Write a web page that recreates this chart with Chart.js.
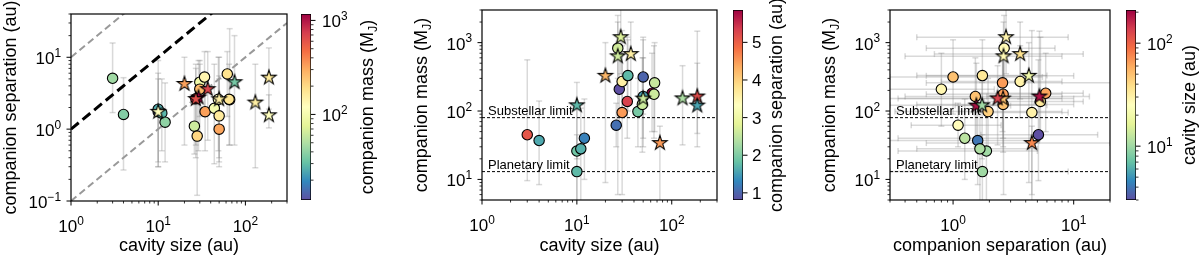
<!DOCTYPE html>
<html><head><meta charset="utf-8">
<script src="https://cdn.jsdelivr.net/npm/chart.js@4.4.1/dist/chart.umd.min.js"></script>
<style>
html,body{margin:0;padding:0;background:#fff;width:1200px;height:260px;overflow:hidden}
canvas{position:absolute;top:0}
</style></head><body>
<canvas id="p1" width="295" height="260" style="left:0px"></canvas>
<canvas id="cb1" width="105" height="260" style="left:295px"></canvas>
<canvas id="p2" width="325" height="260" style="left:400px"></canvas>
<canvas id="cb2" width="75" height="260" style="left:725px"></canvas>
<canvas id="p3" width="318" height="260" style="left:800px"></canvas>
<canvas id="cb3" width="82" height="260" style="left:1118px"></canvas>
<script>
// ---------------- DATA ----------------
// companions shown with circle markers
const circCavity = [3, 4, 10, 10, 11, 12, 26, 30, 34, 28, 30, 34.5, 27, 50, 44, 49, 66, 62, 65, 50];
const circSep    = [5.1, 1.6, 1.75, 1.89, 1.67, 1.25, 1.1, 4.5, 5.3, 0.8, 3.6, 1.75, 2.65, 1.0, 1.95, 2.6, 2.57, 5.86, 2.6, 1.53];
const circMass   = [45, 37, 13, 26, 28, 40, 62, 95, 138, 208, 270, 330, 830, 315, 98, 125, 258, 182, 176, 163];
const circSepLo  = [1.7, 0.27, 0.3, 0.35, 0.5, 0.35, 0.45, 1.5, 1.8, 0.12, 0.8, 0.5, 0.6, 0.3, 0.33, 0.5, 0.6, 1.5, 0.6, 0.4];
const circSepHi  = [15.8, 5.2, 9, 5, 5, 4.4, 2.5, 9, 12, 2.2, 8, 6, 7, 5.5, 8, 10, 25, 12, 8, 5];
const circMassLo = [9.6, 8.4, 3, 3, 4, 10, 30, 6, 40, 60, 80, 100, 300, 90, 30, 25, 50, 50, 40, 40];
const circMassHi = [560, 140, 45, 120, 110, 150, 130, 1500, 1200, 700, 900, 1100, 2500, 1100, 300, 600, 1000, 700, 900, 600];
// companions shown with star markers
const starCavity = [20, 29, 27, 37, 75, 50, 130, 186, 186, 10];
const starSep    = [4.25, 2.75, 2.62, 3.6, 4.5, 2.6, 2.34, 5.2, 1.56, 1.74];
const starMass   = [327, 1200, 630, 680, 34, 152, 153, 163, 120, 121];
const starSepLo  = [0.6, 0.5, 0.4, 0.7, 0.6, 0.35, 0.29, 1.9, 1.04, 0.3];
const starSepHi  = [10, 9, 8, 12, 20, 10, 8, 13.5, 3, 6];
const starMassLo = [9, 350, 6, 150, 2, 30, 32, 47, 30, 20];
const starMassHi = [1000, 3500, 2000, 2000, 60, 1200, 460, 1470, 500, 262];
// reference lines (panel 1)
const diagX      = [1, 300];
const oneToOneY  = [1, 300];
const upperDiagY = [10, 3000];
const lowerDiagY = [0.1, 30];
// mass limits (panels 2,3)
const substellarLimit = 80;
const planetaryLimit  = 13;
// colour ranges
const massRange = [12.3, 1170];
const sepRange  = [0.81, 5.86];
const cavRange  = [3, 210];
// axis ranges & ticks
const cavAxis  = [1, 300];
const sepAxis1 = [0.1, 40];
const massAxis = [5, 3000];
const sepAxis3 = [0.3, 20];
const cavTicks  = [1, 10, 100];
const sepTicks1 = [0.1, 1, 10];
const massTicks = [10, 100, 1000];
const sepTicks3 = [1, 10];
const massCbTicks = [100, 1000];
const sepCbTicks  = [1, 2, 3, 4, 5];
const cavCbTicks  = [10, 100];

// ---------------- HELPERS ----------------
const FONT = '"Liberation Sans", Arial, Helvetica, sans-serif';
const TICK_FS = 17, TITLE_FS = 18, LIMIT_FS = 13;
const SPECTRAL_R = ['#5e4fa2','#3288bd','#66c2a5','#abdda4','#e6f598','#ffffbf','#fee08b','#fdae61','#f46d43','#d53e4f','#9e0142'];
const STOPS = SPECTRAL_R.map(h => [parseInt(h.slice(1,3),16), parseInt(h.slice(3,5),16), parseInt(h.slice(5,7),16)]);
function cmap(t) {
  t = Math.max(0, Math.min(1, t));
  const s = t * 10, i = Math.min(9, Math.floor(s)), f = s - i;
  const a = STOPS[i], b = STOPS[i+1];
  return 'rgb(' + [0,1,2].map(k => Math.round(a[k] + (b[k]-a[k]) * f)).join(',') + ')';
}
const nLog = (v, r) => (Math.log10(v) - Math.log10(r[0])) / (Math.log10(r[1]) - Math.log10(r[0]));
const nLin = (v, r) => (v - r[0]) / (r[1] - r[0]);
const starCache = {};
function starImg(color) {
  if (starCache[color]) return starCache[color];
  const R = 7.6, r = R * 0.381966, size = 20;
  const c = document.createElement('canvas'); c.width = size; c.height = size;
  const g = c.getContext('2d');
  g.translate(size/2, size/2);
  g.beginPath();
  for (let k = 0; k < 10; k++) {
    const rad = k % 2 ? r : R, ang = -Math.PI/2 + k * Math.PI/5;
    const x = rad * Math.cos(ang), y = rad * Math.sin(ang);
    k ? g.lineTo(x, y) : g.moveTo(x, y);
  }
  g.closePath();
  g.fillStyle = color; g.fill();
  g.lineWidth = 1.1; g.strokeStyle = '#000'; g.lineJoin = 'miter'; g.stroke();
  starCache[color] = c;
  return c;
}
const pts = (xs, ys) => xs.map((x, i) => ({x, y: ys[i]}));

function drawSegs(ctx, segs, x, y, align, size) {
  const fnt = s => (s.sup || s.sub ? size * 0.7 : size) + 'px ' + FONT;
  const w = segs.map(s => { ctx.font = fnt(s); return ctx.measureText(s.t).width; });
  const tot = w.reduce((a, b) => a + b, 0);
  let cx = align === 'center' ? x - tot/2 : align === 'right' ? x - tot : x;
  ctx.textAlign = 'left'; ctx.textBaseline = 'alphabetic';
  segs.forEach((s, i) => {
    ctx.font = fnt(s);
    const dy = s.sup ? -size * 0.42 : s.sub ? size * 0.24 : 0;
    ctx.fillText(s.t, cx, y + dy);
    cx += w[i];
  });
}
const powSegs = v => { const e = Math.round(Math.log10(v)); return [{t:'10'}, {t: (e < 0 ? '\u2212' : '') + Math.abs(e), sup:true}]; };
function minorLog(min, max) {
  const out = [];
  for (let e = Math.floor(Math.log10(min)) - 1; e <= Math.ceil(Math.log10(max)); e++)
    for (let k = 2; k < 10; k++) { const v = k * Math.pow(10, e); if (v >= min * 0.9999 && v <= max * 1.0001) out.push(v); }
  return out;
}

// error bars
const errPlugin = {
  id: 'errbars',
  beforeDatasetsDraw(chart, args, o) {
    if (!o || !o.sets) return;
    const {ctx, chartArea: a, scales: {x: sx, y: sy}} = chart;
    ctx.save();
    ctx.beginPath(); ctx.rect(a.left, a.top, a.width, a.height); ctx.clip();
    ctx.strokeStyle = 'rgba(128,128,128,0.3)'; ctx.lineWidth = 1.5;
    const seg = (x1, y1, x2, y2) => { ctx.beginPath(); ctx.moveTo(x1, y1); ctx.lineTo(x2, y2); ctx.stroke(); };
    const cap = 3;
    o.sets.forEach(s => {
      s.x.forEach((xv, i) => {
        const px = sx.getPixelForValue(xv), py = sy.getPixelForValue(s.y[i]);
        if (s.ylo) {
          const y1 = sy.getPixelForValue(s.ylo[i]), y2 = sy.getPixelForValue(s.yhi[i]);
          seg(px, y1, px, y2); seg(px-cap, y1, px+cap, y1); seg(px-cap, y2, px+cap, y2);
        }
        if (s.xlo) {
          const x1 = sx.getPixelForValue(s.xlo[i]), x2 = sx.getPixelForValue(s.xhi[i]);
          seg(x1, py, x2, py); seg(x1, py-cap, x1, py+cap); seg(x2, py-cap, x2, py+cap);
        }
      });
    });
    ctx.restore();
  }
};

// axes decoration (frame, ticks, labels, titles)
const decorPlugin = {
  id: 'decor',
  beforeDatasetsDraw(chart, args, o) {
    if (!o || !o.limits) return;
    const {ctx, chartArea: a, scales: {y: sy}} = chart;
    ctx.save(); ctx.fillStyle = '#000';
    o.limits.forEach(l => {
      drawSegs(ctx, [{t: l.text}], a.left + 6, sy.getPixelForValue(l.v) - 3, 'left', LIMIT_FS);
    });
    ctx.restore();
  },
  afterDraw(chart, args, o) {
    if (!o) return;
    const {ctx, chartArea: a, scales} = chart;
    ctx.save();
    ctx.strokeStyle = '#000'; ctx.fillStyle = '#000';
    const tick = (x1, y1, x2, y2, w) => { ctx.lineWidth = w; ctx.beginPath(); ctx.moveTo(x1, y1); ctx.lineTo(x2, y2); ctx.stroke(); };
    if (o.cb) {
      const sy = scales.y, cfg = o.cb;
      const R = a.right;
      cfg.major.forEach(v => {
        const py = sy.getPixelForValue(v);
        tick(R, py, R + 4.5, py, 1);
        if (cfg.log) drawSegs(ctx, powSegs(v), R + 11, py + 7, 'left', TICK_FS);
        else drawSegs(ctx, [{t: String(v)}], R + 9, py + 6, 'left', TICK_FS);
      });
      if (cfg.log) minorLog(sy.min, sy.max).forEach(v => { const py = sy.getPixelForValue(v); tick(R, py, R + 2.5, py, 0.8); });
      ctx.save();
      ctx.translate(R + cfg.titleOff, (a.top + a.bottom) / 2);
      ctx.rotate(-Math.PI / 2);
      drawSegs(ctx, cfg.title, 0, 0.26 * TITLE_FS, 'center', TITLE_FS);
      ctx.restore();
      ctx.restore();
      return;
    }
    const sx = scales.x, sy = scales.y;
    ctx.lineWidth = 1.2;
    ctx.strokeRect(a.left, a.top, a.width, a.height);
    o.xMajor.forEach(v => {
      const px = sx.getPixelForValue(v);
      tick(px, a.bottom, px, a.bottom + 4.5, 1);
      drawSegs(ctx, powSegs(v), px, a.bottom + 31, 'center', TICK_FS);
    });
    minorLog(sx.min, sx.max).forEach(v => { const px = sx.getPixelForValue(v); tick(px, a.bottom, px, a.bottom + 2.5, 0.8); });
    o.yMajor.forEach(v => {
      const py = sy.getPixelForValue(v);
      tick(a.left, py, a.left - 4.5, py, 1);
      drawSegs(ctx, powSegs(v), a.left - 10, py + 7, 'right', TICK_FS);
    });
    minorLog(sy.min, sy.max).forEach(v => { const py = sy.getPixelForValue(v); tick(a.left, py, a.left - 2.5, py, 0.8); });
    drawSegs(ctx, o.xTitle, (a.left + a.right) / 2, 250.5, 'center', TITLE_FS);
    ctx.save();
    ctx.translate(a.left - 60, (a.top + a.bottom) / 2);
    ctx.rotate(-Math.PI / 2);
    drawSegs(ctx, o.yTitle, 0, 0.26 * TITLE_FS, 'center', TITLE_FS);
    ctx.restore();
    ctx.restore();
  }
};

function mainChart(id, c) {
  return new Chart(document.getElementById(id), {
    type: 'scatter',
    data: {datasets: c.datasets},
    options: {
      responsive: false, animation: false, events: [],
      layout: {padding: c.pad},
      scales: {
        x: {type: 'logarithmic', min: c.xr[0], max: c.xr[1], display: false},
        y: {type: 'logarithmic', min: c.yr[0], max: c.yr[1], display: false}
      },
      plugins: {legend: {display: false}, tooltip: {enabled: false}, errbars: c.err, decor: c.decor}
    },
    plugins: [errPlugin, decorPlugin]
  });
}
function cbChart(id, c) {
  return new Chart(document.getElementById(id), {
    type: 'bar',
    data: {labels: [''], datasets: [{
      data: [c.range.slice()],
      backgroundColor: (ctx) => {
        const ca = ctx.chart.chartArea; if (!ca) return '#fff';
        const g = ctx.chart.ctx.createLinearGradient(0, ca.bottom, 0, ca.top);
        SPECTRAL_R.forEach((col, i) => g.addColorStop(i / 10, col));
        return g;
      },
      borderColor: '#000', borderWidth: 1, borderSkipped: false,
      barPercentage: 1, categoryPercentage: 1
    }]},
    options: {
      responsive: false, animation: false, events: [],
      layout: {padding: c.pad},
      scales: {
        x: {display: false},
        y: {type: c.log ? 'logarithmic' : 'linear', min: c.range[0], max: c.range[1], display: false}
      },
      plugins: {legend: {display: false}, tooltip: {enabled: false},
        decor: {cb: {major: c.ticks, log: c.log, title: c.title, titleOff: c.titleOff}}}
    },
    plugins: [decorPlugin]
  });
}

const circleDs = (xs, ys, colors) => ({
  data: pts(xs, ys), pointStyle: 'circle', pointRadius: 5.2, pointBackgroundColor: colors,
  pointBorderColor: '#000', pointBorderWidth: 1.1, showLine: false
});
const starDs = (xs, ys, colors) => ({
  data: pts(xs, ys), pointStyle: colors.map(starImg), pointRadius: 7, showLine: false
});
const lineDs = (xs, ys, color, w, dash) => ({
  data: pts(xs, ys), showLine: true, borderColor: color, borderWidth: w, borderDash: dash,
  pointRadius: 0, fill: false
});

const massTitle = [{t: 'companion mass (M'}, {t: 'J', sub: true}, {t: ')'}];
const limits = [{v: substellarLimit, text: 'Substellar limit'}, {v: planetaryLimit, text: 'Planetary limit'}];

// ---- Panel 1: cavity vs separation, coloured by mass ----
mainChart('p1', {
  pad: {left: 71, right: 7, top: 14, bottom: 59},
  xr: cavAxis, yr: sepAxis1,
  datasets: [
    starDs(starCavity, starSep, starMass.map(v => cmap(nLog(v, massRange)))),
    circleDs(circCavity, circSep, circMass.map(v => cmap(nLog(v, massRange)))),
    lineDs(diagX, oneToOneY, '#000', 3, [10, 5]),
    lineDs(diagX, upperDiagY, '#999', 2, [7, 4]),
    lineDs(diagX, lowerDiagY, '#999', 2, [7, 4])
  ],
  err: {sets: [
    {x: circCavity, y: circSep, ylo: circSepLo, yhi: circSepHi},
    {x: starCavity, y: starSep, ylo: starSepLo, yhi: starSepHi}
  ]},
  decor: {xMajor: cavTicks, yMajor: sepTicks1,
    xTitle: [{t: 'cavity size (au)'}], yTitle: [{t: 'companion separation (au)'}]}
});
cbChart('cb1', {pad: {left: 6, right: 89, top: 14, bottom: 60}, range: massRange, log: true,
  ticks: massCbTicks, title: massTitle, titleOff: 57});

// ---- Panel 2: cavity vs mass, coloured by separation ----
mainChart('p2', {
  pad: {left: 82, right: 6, top: 10, bottom: 60},
  xr: cavAxis, yr: massAxis,
  datasets: [
    starDs(starCavity, starMass, starSep.map(v => cmap(nLin(v, sepRange)))),
    circleDs(circCavity, circMass, circSep.map(v => cmap(nLin(v, sepRange)))),
    lineDs(cavAxis, [substellarLimit, substellarLimit], '#000', 1, [3, 2]),
    lineDs(cavAxis, [planetaryLimit, planetaryLimit], '#000', 1, [3, 2])
  ],
  err: {sets: [
    {x: circCavity, y: circMass, ylo: circMassLo, yhi: circMassHi},
    {x: starCavity, y: starMass, ylo: starMassLo, yhi: starMassHi}
  ]},
  decor: {xMajor: cavTicks, yMajor: massTicks, limits,
    xTitle: [{t: 'cavity size (au)'}], yTitle: massTitle}
});
cbChart('cb2', {pad: {left: 8, right: 57, top: 10, bottom: 60}, range: sepRange, log: false,
  ticks: sepCbTicks, title: [{t: 'companion separation (au)'}], titleOff: 34});

// ---- Panel 3: separation vs mass, coloured by cavity ----
mainChart('p3', {
  pad: {left: 90, right: 6, top: 10, bottom: 60},
  xr: sepAxis3, yr: massAxis,
  datasets: [
    starDs(starSep, starMass, starCavity.map(v => cmap(nLog(v, cavRange)))),
    circleDs(circSep, circMass, circCavity.map(v => cmap(nLog(v, cavRange)))),
    lineDs(sepAxis3, [substellarLimit, substellarLimit], '#000', 1, [3, 2]),
    lineDs(sepAxis3, [planetaryLimit, planetaryLimit], '#000', 1, [3, 2])
  ],
  err: {sets: [
    {x: circSep, y: circMass, xlo: circSepLo, xhi: circSepHi, ylo: circMassLo, yhi: circMassHi},
    {x: starSep, y: starMass, xlo: starSepLo, xhi: starSepHi, ylo: starMassLo, yhi: starMassHi}
  ]},
  decor: {xMajor: sepTicks3, yMajor: massTicks, limits,
    xTitle: [{t: 'companion separation (au)'}], yTitle: massTitle}
});
cbChart('cb3', {pad: {left: 8, right: 64, top: 10, bottom: 60}, range: cavRange, log: true,
  ticks: cavCbTicks, title: [{t: 'cavity size (au)'}], titleOff: 54});
</script>
</body></html>
